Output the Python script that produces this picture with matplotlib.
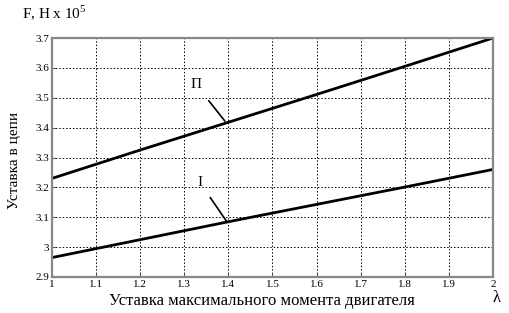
import numpy as np
import matplotlib.pyplot as plt

plt.rcParams['font.family'] = ['Liberation Serif', 'DejaVu Serif']

# data
lam = [1.0, 1.2, 1.4, 1.6, 1.8, 2.0]
F_I = [2.965, 3.025, 3.085, 3.143, 3.201, 3.26]
F_II = [3.23, 3.325, 3.418, 3.511, 3.605, 3.70]
xticks = [1, 1.1, 1.2, 1.3, 1.4, 1.5, 1.6, 1.7, 1.8, 1.9, 2]
xticklabels = ['1', '1.1', '1.2', '1.3', '1.4', '1.5', '1.6', '1.7', '1.8', '1.9', '2']
yticks = [2.9, 3, 3.1, 3.2, 3.3, 3.4, 3.5, 3.6, 3.7]
yticklabels = ['2.9', '3', '3.1', '3.2', '3.3', '3.4', '3.5', '3.6', '3.7']

fig = plt.figure(figsize=(5.10, 3.13), dpi=100)
ax = fig.add_axes([52/510, 1-277/313, 441/510, 239/313])

ax.plot(lam, F_I, color='black', lw=2)
ax.plot(lam, F_II, color='black', lw=2)

ax.set_xlim(1, 2)
ax.set_ylim(2.9, 3.7)
ax.set_xticks(xticks)
ax.set_xticklabels(xticklabels, fontsize=8)
ax.set_yticks(yticks)
ax.set_yticklabels(yticklabels, fontsize=8)
ax.tick_params(direction='in', length=3, pad=2, color='#555555')
ax.grid(True, color='black', linestyle=(0, (1.5, 2)), lw=0.7)
for s in ax.spines.values():
    s.set_color('#888888')
    s.set_linewidth(1.6)

# curve labels with leader lines
ax.annotate('П', xy=(1.392, 3.422), xytext=(1.327, 3.543), fontsize=11,
            ha='center', va='center',
            arrowprops=dict(arrowstyle='-', color='black', lw=1.2, shrinkA=6, shrinkB=0))
ax.annotate('I', xy=(1.397, 3.084), xytext=(1.336, 3.215), fontsize=11,
            ha='center', va='center',
            arrowprops=dict(arrowstyle='-', color='black', lw=1.2, shrinkA=6, shrinkB=0))

fig.text(22/510, 1-13/313, 'F, H x 10$^{\\mathregular{5}}$', fontsize=11, ha='left', va='center')
fig.text(15/510, 1-160/313, 'Уставка в цепи', fontsize=11, rotation=90, ha='center', va='center')
fig.text(262/510, 1-301/313, 'Уставка максимального момента двигателя', fontsize=12,
         ha='center', va='center')
fig.text(497/510, 1-298/313, 'λ', fontsize=12, ha='center', va='center')

fig.savefig('out.png', dpi=100)
